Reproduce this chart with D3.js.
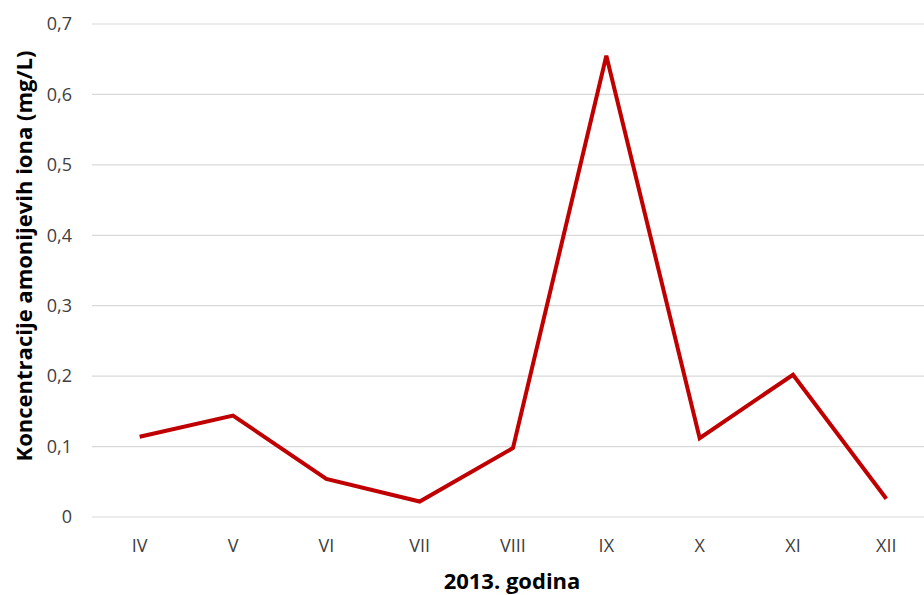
<!DOCTYPE html>
<html>
<head>
<meta charset="utf-8">
<script src="https://cdn.jsdelivr.net/npm/d3@7"></script>
<style>
	body { margin: 0; background: #fff; }
	text { font-family: "Open Sans", sans-serif; fill: #404040; }
</style>
</head>
<body>
<div id="chart"></div>
<script>
// DATA
const months = ["IV", "V", "VI", "VII", "VIII", "IX", "X", "XI", "XII"];
const values = [0.114, 0.144, 0.054, 0.022, 0.098, 0.655, 0.112, 0.202, 0.026];
const yTicks = [0, 0.1, 0.2, 0.3, 0.4, 0.5, 0.6, 0.7];
const xTitle = "2013. godina";
const yTitle = "Koncentracije amonijevih iona (mg/L)";

// Dimensions
const width = 924, height = 595;
const plot = { left: 93, right: 933, top: 24, bottom: 517 };

const svg = d3.select("#chart")
	.append("svg")
		.attr("width", width)
		.attr("height", height);

// Scales
const x = d3.scalePoint().domain(months).range([plot.left, plot.right]).padding(0.5);
const y = d3.scaleLinear().domain([0, 0.7]).range([plot.bottom, plot.top]);

// Gridlines
svg.append("g")
	.selectAll("line")
	.data(yTicks).enter().append("line")
	.attr("x1", plot.left - 1)
	.attr("x2", width)
	.attr("y1", d => y(d))
	.attr("y2", d => y(d))
	.style("stroke", "#d9d9d9")
	.style("stroke-width", 1.2);

// Y-AXIS labels
svg.append("g")
	.selectAll("text")
	.data(yTicks).enter().append("text")
	.attr("x", 72)
	.attr("y", d => y(d))
	.attr("dy", "0.35em")
	.style("text-anchor", "end")
	.style("font-size", "18px")
	.text(d => d3.format(".1f")(d).replace(".", ",").replace("0,0", "0"));

// X-AXIS labels
svg.append("g")
	.selectAll("text")
	.data(months).enter().append("text")
	.attr("x", d => x(d))
	.attr("y", 546)
	.attr("dy", "0.35em")
	.style("text-anchor", "middle")
	.style("font-size", "18px")
	.text(d => d);

// Axis titles
svg.append("text")
	.attr("x", 512)
	.attr("y", 581)
	.attr("dy", "0.35em")
	.style("text-anchor", "middle")
	.style("font-size", "22px")
	.style("font-weight", 700)
	.style("fill", "#000")
	.text(xTitle);

svg.append("text")
	.attr("transform", "rotate(-90)")
	.attr("x", -256)
	.attr("y", 24)
	.attr("dy", "0.35em")
	.style("text-anchor", "middle")
	.style("font-size", "22px")
	.style("font-weight", 700)
	.style("fill", "#000")
	.text(yTitle);

// Line
const valueline = d3.line()
	.x((d, i) => x(months[i]))
	.y(d => y(d));

svg.append("path")
	.datum(values)
	.attr("d", valueline)
	.style("fill", "none")
	.style("stroke", "#C00000")
	.style("stroke-width", 4)
	.style("stroke-linejoin", "miter");
</script>
</body>
</html>
